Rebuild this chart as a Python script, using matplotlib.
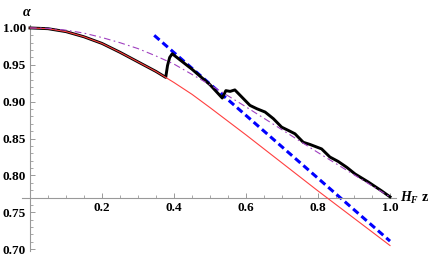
import matplotlib
matplotlib.use("Agg")
import matplotlib.pyplot as plt
from matplotlib.ticker import MultipleLocator, FixedLocator

plt.rcParams['mathtext.fontset'] = 'custom'
plt.rcParams['mathtext.it'] = 'Liberation Serif:italic:bold'
plt.rcParams['mathtext.rm'] = 'Liberation Serif:bold'

# red thin curve
red_x = [0, 0.05, 0.1, 0.15, 0.2, 0.25, 0.3, 0.35, 0.4, 0.45, 0.5, 0.6, 0.7, 0.8, 0.9, 1.0]
red_y = [1.0, 0.999, 0.995, 0.988, 0.979, 0.967, 0.954, 0.941, 0.926, 0.910, 0.892,
         0.855, 0.817, 0.779, 0.742, 0.705]

# purple dash-dot curve
pur_x = [0, 0.05, 0.1, 0.15, 0.2, 0.25, 0.3, 0.35, 0.4, 0.45, 0.5, 0.6, 0.7, 0.8, 0.9, 1.0]
pur_y = [1.0, 0.9995, 0.997, 0.993, 0.987, 0.980, 0.972, 0.962, 0.951, 0.937, 0.923,
         0.893, 0.862, 0.831, 0.801, 0.771]

# blue dashed straight line
blue_x = [0.345, 1.0]
blue_y = [0.990, 0.711]

# black thick curve
blk_x = [0, 0.05, 0.1, 0.15, 0.2, 0.25, 0.3, 0.35, 0.377, 0.382, 0.388, 0.395, 0.45, 0.5,
         0.534, 0.544, 0.556, 0.569, 0.593, 0.611, 0.630, 0.653, 0.676, 0.699, 0.722,
         0.736, 0.759, 0.778, 0.810, 0.833, 0.856, 0.880, 0.903, 0.940, 0.977, 1.0]
blk_y = [1.0, 0.999, 0.995, 0.988, 0.979, 0.967, 0.954, 0.941, 0.933, 0.949, 0.960, 0.965,
         0.944, 0.923, 0.905, 0.915, 0.914, 0.916, 0.904, 0.895, 0.8905, 0.886, 0.877,
         0.8655, 0.860, 0.8565, 0.845, 0.842, 0.836, 0.825, 0.819, 0.811, 0.802, 0.791,
         0.779, 0.771]

xticks = [0.2, 0.4, 0.6, 0.8, 1.0]
yticks = [0.70, 0.75, 0.80, 0.85, 0.90, 0.95, 1.00]

fig = plt.figure(figsize=(4.36, 2.58), dpi=100)
ax = fig.add_axes([0.0498, 0.0283, 0.8596, 0.8748])
ax.set_xlim(-0.023, 1.018)
ax.set_ylim(0.698, 1.004)

ax.plot(blue_x, blue_y, color='#0000ff', lw=2.2, dashes=(2.3, 1.3), zorder=2)
ax.plot(blk_x, blk_y, color='black', lw=2.1, zorder=3, solid_joinstyle='round')
ax.plot(red_x, red_y, color='#ff4040', lw=0.8, zorder=4)
ax.plot(pur_x, pur_y, color='#a040c0', lw=0.8, dashes=(6, 3, 1.5, 3), zorder=5)

# mathematica-like axes crossing at (0, 0.77)
for s in ['top', 'right']:
    ax.spines[s].set_visible(False)
ax.spines['left'].set_position(('data', 0))
ax.spines['bottom'].set_position(('data', 0.77))
for s in ['left', 'bottom']:
    ax.spines[s].set_color('#999999')
    ax.spines[s].set_linewidth(0.8)

ax.xaxis.set_major_locator(FixedLocator(xticks))
ax.xaxis.set_minor_locator(MultipleLocator(0.05))
ax.yaxis.set_major_locator(FixedLocator(yticks))
ax.yaxis.set_minor_locator(MultipleLocator(0.01))
ax.set_xticklabels([f"{v:.1f}" for v in xticks])
ax.set_yticklabels([f"{v:.2f}" for v in yticks])
ax.tick_params(which='major', direction='in', length=3.6, width=0.7, color='#999999', pad=3)
ax.tick_params(which='minor', direction='in', length=2.0, width=0.6, color='#999999')
for lab in ax.get_xticklabels() + ax.get_yticklabels():
    lab.set_fontfamily('Liberation Serif')
    lab.set_fontweight('bold')
    lab.set_fontsize(9.5)

ax.text(1.028, 0.77, r"$H_F$ z", fontsize=10, fontfamily='Liberation Serif',
        fontweight='bold', va='center', ha='left', clip_on=False)
ax.text(-0.009, 1.021, r"$\alpha$", fontsize=10, va='center', ha='center', clip_on=False)

fig.savefig("out.png", dpi=100)
